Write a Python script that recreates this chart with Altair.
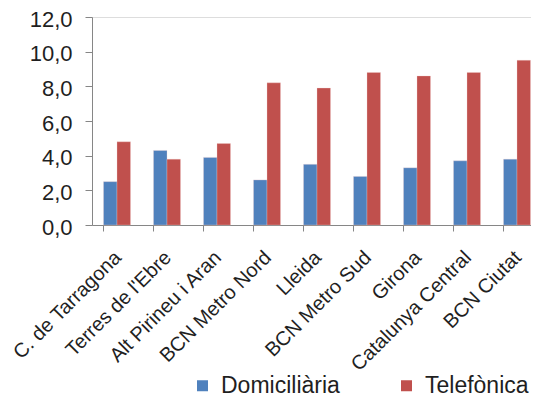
import altair as alt
import pandas as pd

categories = ["C. de Tarragona", "Terres de l'Ebre", "Alt Pirineu i Aran", "BCN Metro Nord",
              "Lleida", "BCN Metro Sud", "Girona", "Catalunya Central", "BCN Ciutat"]
domiciliaria = [2.5, 4.3, 3.9, 2.6, 3.5, 2.8, 3.3, 3.7, 3.8]
telefonica = [4.8, 3.8, 4.7, 8.2, 7.9, 8.8, 8.6, 8.8, 9.5]
series = ["Domiciliària", "Telefònica"]
colors = ["#4F81BD", "#C0504D"]
y_ticks = [0, 2, 4, 6, 8, 10, 12]

rows = []
for c, d, t in zip(categories, domiciliaria, telefonica):
    rows.append({"cat": c, "serie": series[0], "val": d})
    rows.append({"cat": c, "serie": series[1], "val": t})
df = pd.DataFrame(rows)

FONT = "Liberation Sans"

chart = alt.Chart(df).mark_bar(stroke="#f4d0d0", strokeWidth=0.5, strokeOpacity=0.6).encode(
    x=alt.X("cat:N", sort=categories, title=None,
            scale=alt.Scale(paddingInner=0.46, paddingOuter=0.23),
            axis=alt.Axis(labelAngle=-45, labelFontSize=20, labelFont=FONT, labelColor="#1f1f1f",
                          bandPosition=0, ticks=True, tickSize=6, tickColor="#868686",
                          domainColor="#868686", labelPadding=16, labelOffset=-6,
                          labelOverlap=False)),
    xOffset=alt.XOffset("serie:N", sort=series),
    y=alt.Y("val:Q", title=None,
            scale=alt.Scale(domain=[0, 12], nice=False),
            axis=alt.Axis(values=y_ticks, labelExpr="replace(format(datum.value, '.1f'), '.', ',')",
                          labelFontSize=22, labelFont=FONT, labelColor="#1f1f1f",
                          tickSize=7, tickColor="#868686", domainColor="#868686",
                          labelPadding=13, labelOffset=2, grid=False)),
    color=alt.Color("serie:N", sort=series,
                    scale=alt.Scale(domain=series, range=colors),
                    legend=alt.Legend(title=None, orient="none", direction="horizontal",
                                      legendX=99, legendY=357, symbolType="square",
                                      symbolSize=121, symbolStrokeWidth=0,
                                      labelFontSize=23, labelFont=FONT, labelColor="#1f1f1f",
                                      labelOffset=7, columnPadding=55)),
).properties(
    width=450, height=208,
    autosize=alt.AutoSizeParams(type="none"),
    padding={"left": 84, "top": 9, "right": -11, "bottom": 178},
).configure_view(stroke=None).configure(background="white")

chart.save("out.html", embed_options={"renderer": "svg", "actions": False})
